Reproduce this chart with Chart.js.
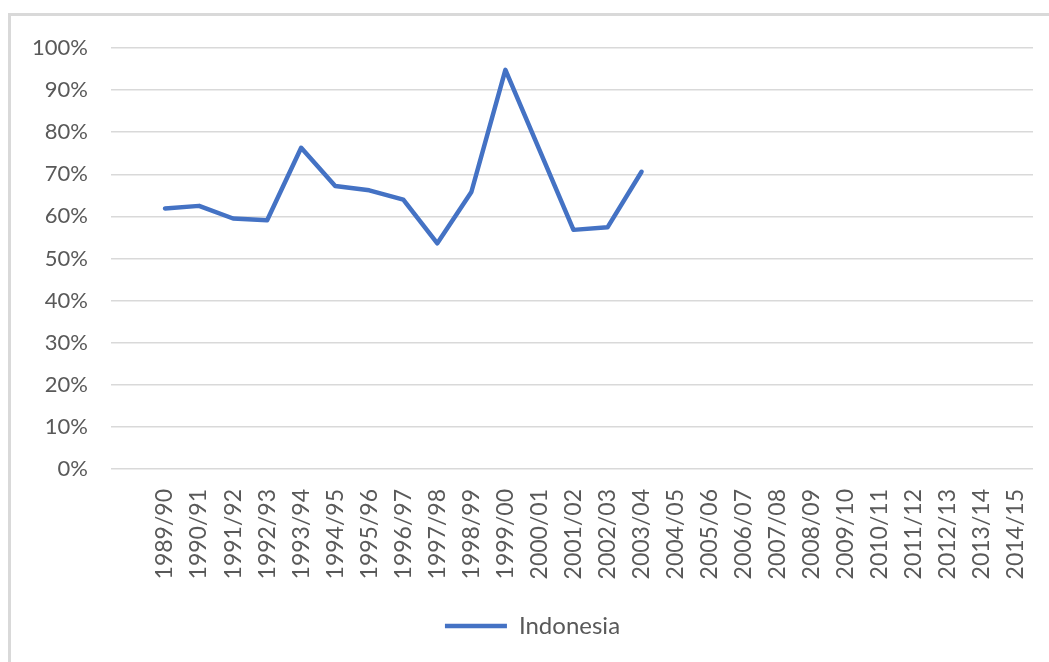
<!DOCTYPE html>
<html>
<head>
<meta charset="utf-8">
<script src="https://cdn.jsdelivr.net/npm/chart.js@4/dist/chart.umd.min.js"></script>
<style>
  html, body { margin: 0; padding: 0; background: #fff; overflow: hidden; }
  .frame {
    position: absolute; left: 8px; top: 13px; width: 1100px; height: 700px;
    border-top: 3px solid #d9d9d9; border-left: 3px solid #d9d9d9;
  }
  .wrap { position: absolute; left: 0; top: 0; width: 1049px; height: 662px; }
</style>
</head>
<body>
<div class="frame"></div>
<div class="wrap"><canvas id="myChart"></canvas></div>
<script>
  const years = [
    '1989/90', '1990/91', '1991/92', '1992/93', '1993/94', '1994/95', '1995/96',
    '1996/97', '1997/98', '1998/99', '1999/00', '2000/01', '2001/02', '2002/03',
    '2003/04', '2004/05', '2005/06', '2006/07', '2007/08', '2008/09', '2009/10',
    '2010/11', '2011/12', '2012/13', '2013/14', '2014/15'
  ]
  // share in percent, no data after 2003/04
  const indonesia = [
    61.9, 62.5, 59.5, 59.1, 76.3, 67.2, 66.2, 64.0, 53.6, 65.8, 94.8, 75.8,
    56.8, 57.4, 70.6, null, null, null, null, null, null, null, null, null,
    null, null
  ]
  const yTicks = [0, 10, 20, 30, 40, 50, 60, 70, 80, 90, 100]

  const grey = '#595959'
  Chart.defaults.font.family = 'Lato, "Noto Sans", sans-serif'
  Chart.defaults.font.size = 22
  Chart.defaults.color = grey

  const ctx = document.getElementById('myChart')
  // eslint-disable-next-line no-unused-vars
  const myChart = new Chart(ctx, {
    type: 'line',
    data: {
      labels: years,
      datasets: [{
        label: 'Indonesia',
        data: indonesia,
        borderColor: '#4472c4',
        backgroundColor: '#4472c4',
        borderWidth: 4.5,
        borderCapStyle: 'round',
        borderJoinStyle: 'round',
        pointRadius: 0,
        pointHoverRadius: 0,
        tension: 0,
        spanGaps: false
      }]
    },
    options: {
      responsive: true,
      maintainAspectRatio: false,
      animation: false,
      layout: { padding: { top: 48, right: 16, bottom: 14, left: 32 } },
      scales: {
        x: {
          offset: true,
          grid: { display: false, drawTicks: false, offset: true },
          border: { display: false },
          ticks: { minRotation: 90, maxRotation: 90, padding: 20, autoSkip: false, font: { size: 23 } },
          afterFit: (s) => {
            s.height = 137
            s.paddingLeft = 0
            s.paddingRight = 0
          }
        },
        y: {
          min: 0,
          max: 100,
          afterBuildTicks: (s) => { s.ticks = yTicks.map(v => ({ value: v })) },
          grid: { color: '#d9d9d9', lineWidth: 1.5, tickLength: 37, tickColor: '#d9d9d9' },
          border: { display: false },
          ticks: { padding: 23, callback: (v) => v + '%' },
          afterFit: (s) => { s.width = 116 }
        }
      },
      plugins: {
        legend: {
          position: 'bottom',
          labels: {
            usePointStyle: true,
            pointStyle: 'line',
            pointStyleWidth: 62,
            boxHeight: 10,
            padding: 8,
            font: { size: 24 }
          }
        },
        tooltip: { enabled: false }
      }
    }
  })
</script>
</body>
</html>
